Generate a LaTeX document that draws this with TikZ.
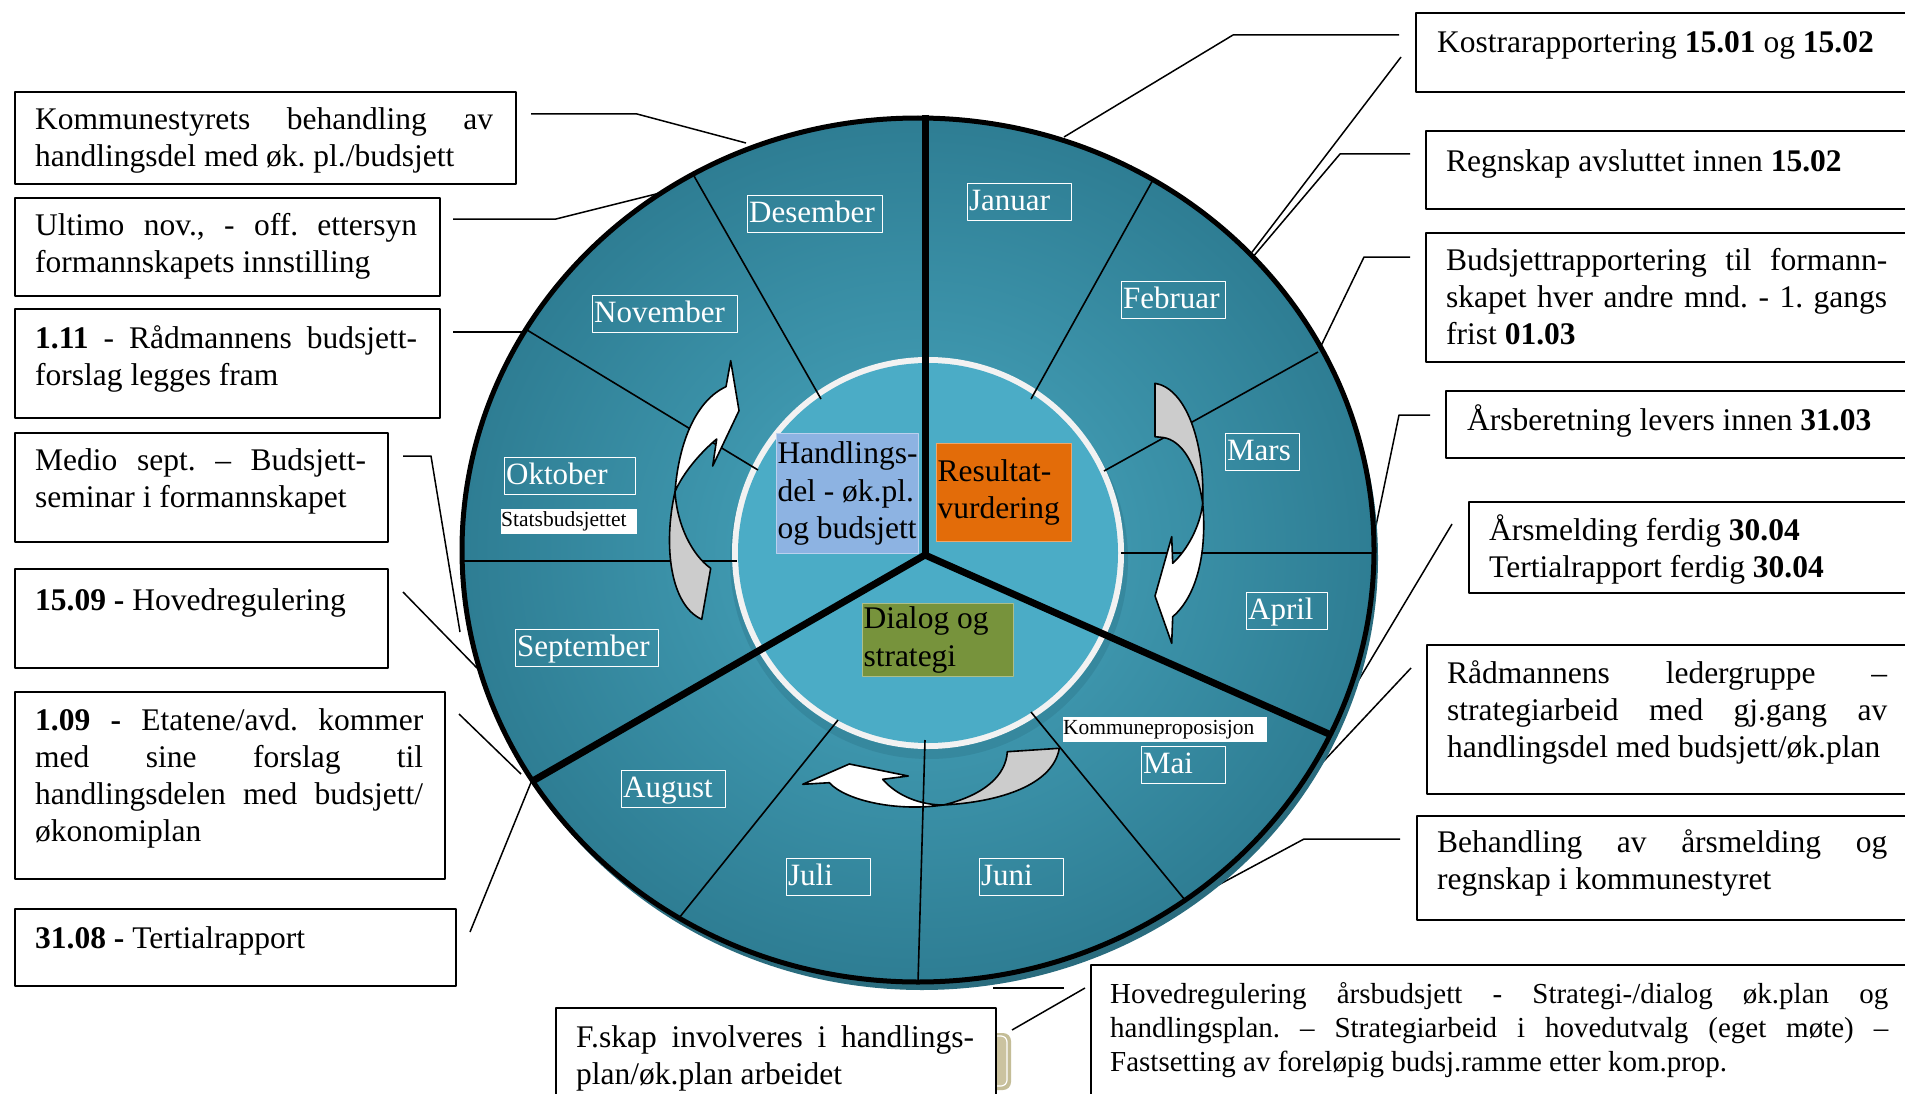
\documentclass[tikz,border=0pt]{standalone}
\usepackage{fontspec}
\setmainfont{Liberation Serif}
\definecolor{ringin}{HTML}{4AA9C1}
\definecolor{ringout}{HTML}{2E7D93}
\definecolor{shadowc}{HTML}{2A6C7E}
\definecolor{innershadow}{HTML}{2F7A8F}
\definecolor{ringwhite}{HTML}{F2F2F2}
\definecolor{innerc}{HTML}{4BACC6}
\definecolor{hblue}{HTML}{8DB3E2}
\definecolor{rorange}{HTML}{E36C09}
\definecolor{dgreen}{HTML}{77933C}
\definecolor{greyarrow}{HTML}{CCCCCC}
\definecolor{beigeline}{HTML}{C4BD97}
\definecolor{beigefill}{HTML}{CBC3A0}
% justified line of given width, natural line, left-aligned line of given width
\newcommand{\jl}[2]{\hbox to #1{#2}}
\newcommand{\nl}[1]{\hbox{#1}}
\newcommand{\cl}[2]{\hbox to #1{#2\hfil}}
\newcommand{\mlab}[2]{\makebox[#1][l]{#2}}
\begin{document}
\frenchspacing
\begin{tikzpicture}[x=1pt,y=-1pt,line join=round,
  fsz/.style={font=\fontsize{31.5}{37}\selectfont},
  cbox/.style={draw=black,line width=1.8pt,fill=white,inner sep=0pt,anchor=north west},
  ctext/.style={fsz,anchor=base west,inner sep=0pt},
  conn/.style={line width=1.5pt},
  thinl/.style={line width=1.6pt},
  thickl/.style={line width=7pt,line join=miter},
  arrowpath/.style={draw=black,line width=1.6pt},
  monthbox/.style={draw=white,line width=1.3pt,text=white,font=\fontsize{31}{31}\selectfont,
    anchor=north west,inner xsep=1.5pt,inner ysep=0pt,text height=26pt,text depth=9pt,minimum height=37pt},
  smallbox/.style={fill=white,anchor=north west,inner sep=0pt,minimum height=25pt,
    font=\fontsize{21.5}{22}\selectfont},
  centerbox/.style={anchor=north west,inner xsep=1pt,inner ysep=0pt,
    font=\fontsize{31.5}{37.5}\selectfont}
]
\useasboundingbox (0,0) rectangle (1905,1094);
\clip (0,0) rectangle (1905,1094);
\fill[white] (0,0) rectangle (1905,1094);

% ---------- coordinates ----------
\coordinate (ctr) at (918,550);
\coordinate (ic) at (928,553);
\coordinate (hub) at (925,555);
\coordinate (top) at (925,115);
\coordinate (swe) at (531,782);
\coordinate (see) at (1329,734);

\coordinate (decA) at (694,176); \coordinate (decB) at (821,399);
\coordinate (novA) at (527,330); \coordinate (novB) at (758,470);
\coordinate (oktA) at (462,561); \coordinate (oktB) at (737,561);
\coordinate (augA) at (838,720); \coordinate (augB) at (679,918);
\coordinate (julA) at (925,740); \coordinate (julB) at (918,982);
\coordinate (junA) at (1031,712); \coordinate (junB) at (1185,900);
\coordinate (aprA) at (1121,553); \coordinate (aprB) at (1372,553);
\coordinate (marA) at (1104,471); \coordinate (marB) at (1318,352);
\coordinate (febA) at (1031,399); \coordinate (febB) at (1154,178);

% ---------- callout boxes ----------
\node[cbox,minimum width=501pt,minimum height=92pt] (b1) at (14,91) {};
\node[cbox,minimum width=425pt,minimum height=98pt] (b2) at (14,197) {};
\node[cbox,minimum width=425pt,minimum height=109pt] (b3) at (14,308) {};
\node[cbox,minimum width=373pt,minimum height=109pt] (b4) at (14,432) {};
\node[cbox,minimum width=373pt,minimum height=99pt] (b5) at (14,568) {};
\node[cbox,minimum width=430pt,minimum height=187pt] (b6) at (14,691) {};
\node[cbox,minimum width=441pt,minimum height=77pt] (b7) at (14,908) {};
\node[cbox,minimum width=510pt,minimum height=79pt] (b8) at (1415,12) {};
\node[cbox,minimum width=500pt,minimum height=78pt] (b9) at (1425,130) {};
\node[cbox,minimum width=500pt,minimum height=129pt] (b10) at (1425,232) {};
\node[cbox,minimum width=480pt,minimum height=67pt] (b11) at (1445,390) {};
\node[cbox,minimum width=457pt,minimum height=91pt] (b12) at (1468,501) {};
\node[cbox,minimum width=499pt,minimum height=149pt] (b13) at (1426,644) {};
\node[cbox,minimum width=509pt,minimum height=104pt] (b14) at (1416,815) {};

% ---------- connectors ----------
\coordinate (c1a) at (531,114); \coordinate (c1b) at (637,114); \coordinate (c1c) at (746,143);
\coordinate (c2a) at (453,219); \coordinate (c2b) at (556,219); \coordinate (c2c) at (660,193);
\coordinate (c3a) at (453,332); \coordinate (c3b) at (529,332);
\coordinate (c4a) at (403,456); \coordinate (c4b) at (431,456); \coordinate (c4c) at (460,632);
\coordinate (c5a) at (403,592); \coordinate (c5b) at (477,668);
\coordinate (c6a) at (459,714); \coordinate (c6b) at (521,774);
\coordinate (c7a) at (470,932); \coordinate (c7b) at (532,780);
\coordinate (c8a) at (1399,35); \coordinate (c8b) at (1233,35); \coordinate (c8c) at (1064,137);
\coordinate (c8d) at (1401,57); \coordinate (c8e) at (1246,260);
\coordinate (c9a) at (1410,154); \coordinate (c9b) at (1340,154); \coordinate (c9c) at (1252,258);
\coordinate (c10a) at (1410,257); \coordinate (c10b) at (1364,257); \coordinate (c10c) at (1320,348);
\coordinate (c11a) at (1430,415); \coordinate (c11b) at (1399,415); \coordinate (c11c) at (1373,540);
\coordinate (c12a) at (1452,524); \coordinate (c12b) at (1345,703);
\coordinate (c13a) at (1411,668); \coordinate (c13b) at (1306,780);
\coordinate (c14a) at (1400,839); \coordinate (c14b) at (1304,839); \coordinate (c14c) at (1209,890);
\coordinate (c15a) at (993,988); \coordinate (c15b) at (1064,988);
\coordinate (c15c) at (1085,988); \coordinate (c15d) at (1012,1030);

\draw[conn] (c1a) -- (c1b) -- (c1c);
\draw[conn] (c2a) -- (c2b) -- (c2c);
\draw[conn] (c3a) -- (c3b);
\draw[conn] (c4a) -- (c4b) -- (c4c);
\draw[conn] (c5a) -- (c5b);
\draw[conn] (c6a) -- (c6b);
\draw[conn] (c7a) -- (c7b);
\draw[conn] (c8a) -- (c8b) -- (c8c);
\draw[conn] (c8d) -- (c8e);
\draw[conn] (c9a) -- (c9b) -- (c9c);
\draw[conn] (c10a) -- (c10b) -- (c10c);
\draw[conn] (c11a) -- (c11b) -- (c11c);
\draw[conn] (c12a) -- (c12b);
\draw[conn] (c13a) -- (c13b);
\draw[conn] (c14a) -- (c14b) -- (c14c);
\draw[conn] (c15a) -- (c15b);
\draw[conn] (c15c) -- (c15d);

% ---------- wheel ----------
\fill[shadowc] ([shift={(4,8)}]ctr) ellipse [x radius=456pt, y radius=432pt];
\shade[inner color=ringin, outer color=ringout] (ctr) ellipse [x radius=456pt, y radius=432pt];
\fill[innershadow,opacity=0.45] ([shift={(1,7)}]ic) circle [radius=199pt];
\fill[ringwhite] (ic) circle [radius=196pt];
\fill[innerc] (ic) circle [radius=190pt];

\draw[thinl] (decA) -- (decB);
\draw[thinl] (novA) -- (novB);
\draw[thinl] (oktA) -- (oktB);
\draw[thinl] (augA) -- (augB);
\draw[thinl] (junA) -- (junB);
\draw[thinl] (aprA) -- (aprB);
\draw[thinl] (marA) -- (marB);
\draw[thinl] (febA) -- (febB);
\draw[thickl] (top) -- (hub);
\draw[thickl] (swe) -- (hub) -- (see);

% ---------- curved arrows ----------
% left (upward)
\draw[arrowpath,fill=greyarrow] (675,491.7) .. controls (663,545) and (670,605) .. (701.7,619.3)
  -- (710.7,568.3) .. controls (692,555) and (677,525) .. (675,491.7) -- cycle;
\draw[arrowpath,fill=white] (675,491.7) .. controls (679,440) and (697,400) .. (726,386.7)
  -- (730.7,360.7) -- (739,410.7) -- (712.7,466) -- (716.7,439)
  .. controls (700,453) and (683,473) .. (675,491.7) -- cycle;
% right (downward)
\draw[arrowpath,fill=greyarrow] (1155,383.3) .. controls (1185,388) and (1205,440) .. (1202.7,503.3)
  .. controls (1197,465) and (1182,440) .. (1163,437.5) -- (1155,436.7) -- cycle;
\draw[arrowpath,fill=white] (1202.7,503.3) .. controls (1207,550) and (1198,595) .. (1172.7,616.7)
  -- (1171.7,643.3) -- (1155,596) -- (1171.7,536.7) -- (1172.7,563.3)
  .. controls (1187,550) and (1200,527) .. (1202.7,503.3) -- cycle;
% bottom (leftward)
\draw[arrowpath,fill=greyarrow] (1007.3,751.7) -- (1059.3,748.3) .. controls (1053,785) and (1000,802) .. (943.3,805)
  .. controls (985,795) and (1006,775) .. (1007.3,751.7) -- cycle;
\draw[arrowpath,fill=white] (943.3,805) .. controls (895,812) and (845,800) .. (829.3,782.7)
  -- (802.7,784.3) -- (849.3,764) -- (908.3,776) -- (882.7,779.3)
  .. controls (898,797) and (922,805) .. (943.3,805) -- cycle;

\draw[thinl] (julA) -- (julB);

% outer border
\draw[line width=5pt] (ctr) ellipse [x radius=456pt, y radius=432pt];

% ---------- month labels ----------
\node[monthbox] (jan) at (967,183) {\mlab{101pt}{Januar}};
\node[monthbox] (des) at (747,195) {\mlab{132pt}{Desember}};
\node[monthbox] (nov) at (592,295) {\mlab{142pt}{November}};
\node[monthbox] (feb) at (1121,281) {\mlab{101pt}{Februar}};
\node[monthbox] (mar) at (1225,433) {\mlab{71pt}{Mars}};
\node[monthbox] (okt) at (504,457) {\mlab{128pt}{Oktober}};
\node[monthbox] (apr) at (1246,592) {\mlab{78pt}{April}};
\node[monthbox] (sep) at (515,629) {\mlab{140pt}{September}};
\node[monthbox] (mai) at (1141,746) {\mlab{81pt}{Mai}};
\node[monthbox] (aug) at (621,770) {\mlab{101pt}{August}};
\node[monthbox] (jul) at (786,858) {\mlab{81pt}{Juli}};
\node[monthbox] (jun) at (979,858) {\mlab{81pt}{Juni}};
\node[smallbox] (stats) at (501,509) {\mlab{136pt}{Statsbudsjettet}};
\node[smallbox] (kprop) at (1063,717) {\mlab{204pt}{Kommuneproposisjon}};

% ---------- centre labels ----------
\node[centerbox,fill=hblue,draw=hblue!60!white,line width=1pt,minimum width=142pt,minimum height=120pt] (hand) at (776,433)
  {\vbox{\cl{140pt}{Handlings-}\cl{140pt}{del - øk.pl.}\cl{140pt}{og budsjett}}};
\node[centerbox,fill=rorange,draw=rorange!60!white,line width=1pt,minimum width=135pt,minimum height=98pt] (res) at (936,443)
  {\vbox{\cl{133pt}{Resultat-}\cl{133pt}{vurdering}}};
\node[centerbox,fill=dgreen,draw=dgreen!60!white,line width=1pt,minimum width=151pt,minimum height=73pt] (dia) at (862,603)
  {\vbox{\cl{149pt}{Dialog og}\cl{149pt}{strategi}}};

% ---------- bottom boxes ----------
\fill[beigeline,rounded corners=8pt] (955,1033) rectangle (1011,1090);
\draw[white,line width=1.2pt,fill=beigefill,rounded corners=6pt] (952,1036) rectangle (1007,1086);
\node[cbox,minimum width=826pt,minimum height=140pt] (b15) at (1090,964) {};
\node[cbox,minimum width=440pt,minimum height=100pt] (b16) at (555,1007) {};

% ---------- callout texts ----------
\node[ctext] (t1) at (35,130) {\vtop{\jl{458pt}{Kommunestyrets behandling av}\nl{handlingsdel med øk. pl./budsjett}}};
\node[ctext] (t2) at (35,235) {\vtop{\jl{382pt}{Ultimo nov., - off. ettersyn}\nl{formannskapets innstilling}}};
\node[ctext] (t3) at (35,348) {\vtop{\jl{382pt}{\textbf{1.11} - Rådmannens budsjett-}\nl{forslag legges fram}}};
\node[ctext] (t4) at (35,470) {\vtop{\jl{331pt}{Medio sept. – Budsjett-}\nl{seminar i formannskapet}}};
\node[ctext] (t5) at (35,610) {\textbf{15.09 -} Hovedregulering};
\node[ctext] (t6) at (35,730) {\vtop{\jl{388pt}{\textbf{1.09 -} Etatene/avd. kommer}\jl{388pt}{med sine forslag til}\jl{388pt}{handlingsdelen med budsjett/}\nl{økonomiplan}}};
\node[ctext] (t7) at (35,948) {\textbf{31.08 -} Tertialrapport};

\node[ctext] (t8) at (1437,53) {Kostrarapportering \textbf{15.01} og \textbf{15.02}};
\node[ctext] (t9) at (1446,172) {Regnskap avsluttet innen \textbf{15.02}};
\node[ctext] (t10) at (1446,270) {\vtop{\jl{441pt}{Budsjettrapportering til formann-}\jl{441pt}{skapet hver andre mnd. - 1. gangs}\nl{frist \textbf{01.03}}}};
\node[ctext] (t11) at (1467,430) {Årsberetning levers innen \textbf{31.03}};
\node[ctext] (t12) at (1489,540) {\vtop{\nl{Årsmelding ferdig \textbf{30.04}}\nl{Tertialrapport ferdig \textbf{30.04}}}};
\node[ctext] (t13) at (1447,683) {\vtop{\jl{440pt}{Rådmannens ledergruppe –}\jl{440pt}{strategiarbeid med gj.gang av}\nl{handlingsdel med budsjett/øk.plan}}};
\node[ctext] (t14) at (1437,852) {\vtop{\jl{450pt}{Behandling av årsmelding og}\nl{regnskap i kommunestyret}}};
\node[ctext,font=\fontsize{29}{34}\selectfont] (t15) at (1110,1003) {\vtop{\jl{778pt}{Hovedregulering årsbudsjett - Strategi-/dialog øk.plan og}\jl{778pt}{handlingsplan. – Strategiarbeid i hovedutvalg (eget møte) –}\nl{Fastsetting av foreløpig budsj.ramme etter kom.prop.}}};
\node[ctext] (t16) at (576,1047) {\vtop{\jl{398pt}{F.skap involveres i handlings-}\nl{plan/øk.plan arbeidet}}};
\end{tikzpicture}
\end{document}
